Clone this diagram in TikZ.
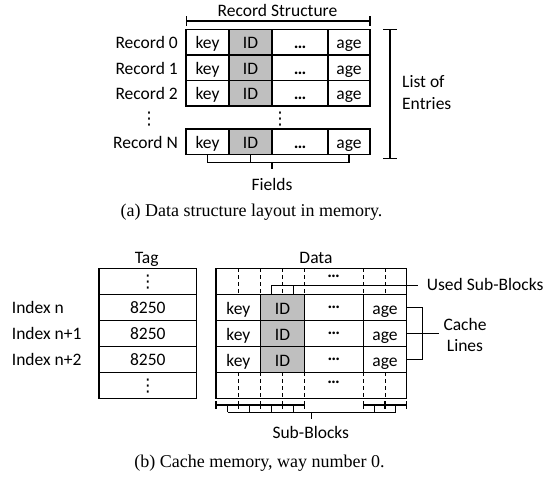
\documentclass[tikz,border=0pt]{standalone}
\usepackage{fontspec}
\setmainfont{Carlito}
\newfontfamily\capfont{Liberation Serif}
\newfontfamily\dotfont{DejaVu Sans}
\usepackage{tikz}
\usetikzlibrary{positioning,calc}

\definecolor{idgray}{RGB}{191,191,191}

\tikzset{
  txt/.style={inner sep=0pt, text height=13pt, text depth=0pt},
  cell/.style={draw, line width=1.1pt, inner sep=0pt, minimum height=25.5pt, text height=13pt, text depth=0pt},
  tagw/.style={minimum width=97.7pt, minimum height=26pt},
  brk/.style={line width=1.1pt},
  subline/.style={line width=0.9pt, dash pattern=on 4pt off 3pt},
  captxt/.style={anchor=base, inner sep=0pt, font=\capfont\fontsize{18}{22}\selectfont}
}
\newcommand{\hdots}{{\bfseries …}}

\begin{document}
\begin{tikzpicture}[x=1pt, y=-1pt, font=\fontsize{17.5}{21}\selectfont]
\useasboundingbox (0,0) rectangle (548,477);

% Record structure
\node[txt] (rstitle) at (277.5,10.2) {Record Structure};
\draw[brk] (186.5,16) -- (186.5,26) (186.5,21) -- (370,21) (370,16) -- (370,26);

\foreach \r/\y in {0/42.25, 1/67.75, 2/93.25, N/141.75} {
  \node[txt, anchor=east] (rec\r) at (178,\y) {Record \r};
  \node[cell, minimum width=43pt] (key\r) at (207.5,\y) {key};
  \node[cell, fill=idgray, minimum width=43pt] (id\r) at (250.5,\y) {ID};
  \node[cell, minimum width=56pt] (dots\r) at (300,\y) {\hdots};
  \node[cell, minimum width=42pt] (age\r) at (349,\y) {age};
}
\node[txt] (vdl) at (149,118) {\dotfont ⋮};
\node[txt] (vdm) at (280,118) {\dotfont ⋮};

% Fields
\draw[brk] (keyN.south) -- ++(0,7.8) coordinate (fl) -| (ageN.south);
\draw[brk] (idN.south) -- (idN.south |- fl);
\draw[brk] (272,162.3) -- (272,168.5);
\node[txt] (fields) at (272,183.5) {Fields};

% List of entries
\draw[brk] (383,29.5) -- (397,29.5) (390,29.5) -- (390,158.3) (383,158.3) -- (397,158.3);
\node[anchor=west, align=left, inner sep=0pt, font=\fontsize{17.5}{22.5}\selectfont] (entries) at (402,92.5) {List of\\Entries};

\node[captxt] (capa) at (251.5,216.5) {(a) Data structure layout in memory.};

% Tag array
\node[txt] (tagtitle) at (146.7,256.8) {Tag};
\node[cell, tagw] (tag0) at (147.85,281.3) {\dotfont ⋮};
\foreach \i/\y in {1/307.3, 2/333.3, 3/359.3}
  \node[cell, tagw] (tag\i) at (147.85,\y) {8250};
\node[cell, tagw] (tag4) at (147.85,385.3) {\dotfont ⋮};
\foreach \i/\y/\l in {1/307.3/n, 2/333.3/n+1, 3/359.3/n+2}
  \node[txt, anchor=west] (idx\i) at (11.7,\y) {Index \l};

% Data array
\node[txt] (datatitle) at (316,256.8) {Data};
\node[cell, minimum width=190.7pt, minimum height=26pt] (dtop) at (311.35,281.3) {};
\node[cell, minimum width=190.7pt, minimum height=26pt] (dbot) at (311.35,385.3) {};
\node[anchor=base, inner sep=0pt] (topdots) at (333.7,277) {\hdots};
\node[anchor=base, inner sep=0pt] (botdots) at (333.7,383.5) {\hdots};
\foreach \i/\y in {1/307.3, 2/333.3, 3/359.3} {
  \node[cell, minimum height=26pt, text height=15pt, minimum width=44.7pt] (dkey\i) at (238.35,\y) {key};
  \node[cell, minimum height=26pt, text height=15pt, fill=idgray, minimum width=43.6pt] (did\i) at (282.5,\y) {ID};
  \node[cell, minimum height=26pt, text depth=10pt, minimum width=59pt] (ddots\i) at (333.8,\y) {\hdots};
  \node[cell, minimum height=26pt, text height=15pt, minimum width=43.4pt] (dage\i) at (385,\y) {age};
}
\foreach \x in {238.3,260.7,282.7,304.3,363.3,385}
  \draw[subline] (\x,268.3) -- (\x,294.3) (\x,372.3) -- (\x,398.3);

% Used sub-blocks
\node[txt, anchor=west] (usedsb) at (426.7,283.5) {Used Sub-Blocks};
\draw[brk] (271.5,294.3) -- (271.5,285.5) -- ($(usedsb.west)+(-8.7,2)$);
\draw[brk] (293.5,294.3) -- (293.5,285.5);

% Cache lines
\draw[brk] (dage1.east) -- ++(15.6,0) |- (dage3.east);
\node[align=center, inner sep=0pt, font=\fontsize{17.5}{21.6}\selectfont] (cachel) at (465,335) {Cache\\Lines};
\draw[brk] (dage2.east) -- ++(31.6,0);

% Sub-blocks
\draw[brk] (216,405) -- (304.3,405) (363.3,405) -- (406.7,405);
\foreach \x in {216,238.3,260.7,282.7,304.3,363.3,385,406.7}
  \draw[brk] (\x,401) -- (\x,409);
\foreach \x in {227.5,249.5,271.7,293.5,374.3,395.9}
  \draw[brk] (\x,405) -- (\x,412.3);
\draw[brk] (227.5,412.3) -- (395.9,412.3) (311.7,412.3) -- (311.7,418.5);
\node[txt] (subblk) at (310.8,431.8) {Sub-Blocks};

\node[captxt] (capb) at (259.5,467.5) {(b) Cache memory, way number 0.};
\end{tikzpicture}
\end{document}
